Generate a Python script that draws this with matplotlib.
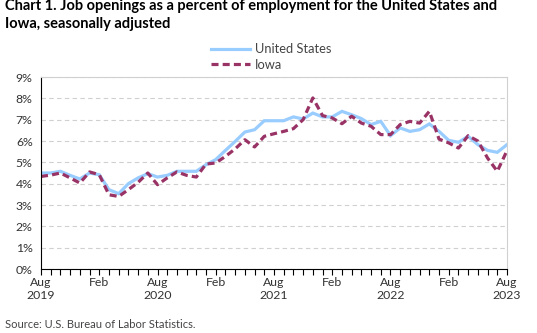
import matplotlib
matplotlib.use('Agg')
import matplotlib.pyplot as plt
import numpy as np

# monthly, Aug 2019 .. Aug 2023
us_rate = [4.5, 4.5, 4.58, 4.39, 4.22, 4.5, 4.42, 3.72, 3.53, 4.0,
           4.27, 4.47, 4.31, 4.39, 4.58, 4.58, 4.58, 4.89, 5.13, 5.56,
           5.98, 6.42, 6.53, 6.95, 6.95, 6.95, 7.13, 7.03, 7.31, 7.13,
           7.13, 7.39, 7.23, 7.05, 6.77, 6.92, 6.25, 6.61, 6.45, 6.53,
           6.8, 6.45, 6.03, 5.94, 6.22, 5.83, 5.56, 5.47, 5.83]
iowa_rate = [4.34, 4.4, 4.5, 4.27, 4.03, 4.55, 4.42, 3.48, 3.4, 3.72,
             4.06, 4.5, 3.95, 4.27, 4.55, 4.39, 4.31, 4.92, 4.97, 5.28,
             5.63, 6.06, 5.72, 6.22, 6.34, 6.45, 6.58, 7.0, 8.02, 7.19,
             7.08, 6.81, 7.16, 6.84, 6.69, 6.3, 6.3, 6.77, 6.92, 6.84,
             7.39, 6.09, 5.91, 5.67, 6.25, 6.0, 5.2, 4.58, 5.55]
tick_labels = ['Aug\n2019', 'Feb', 'Aug\n2020', 'Feb', 'Aug\n2021',
               'Feb', 'Aug\n2022', 'Feb', 'Aug\n2023']
y_ticks = [0, 1, 2, 3, 4, 5, 6, 7, 8, 9]

plt.rcParams['font.family'] = ['Lato', 'DejaVu Sans']

fig = plt.figure(figsize=(5.37, 3.33), dpi=100)
ax = fig.add_axes([41/537, 1 - 269/333, 466/537, 192/333])

months = np.arange(len(us_rate))
ax.plot(months, us_rate, color='#99CCFF', linewidth=2.3, label='United States',
        solid_joinstyle='miter')
ax.plot(months, iowa_rate, color='#993366', linewidth=2.3, linestyle=(0, (2.2, 1.3)),
        label='Iowa')

ax.set_xlim(0, 48)
ax.set_ylim(0, 9)
ax.set_yticks(y_ticks)
ax.set_yticklabels([str(v) + '%' for v in y_ticks])
ax.set_xticks(np.arange(0, 49, 6))
ax.set_xticklabels(tick_labels)
ax.set_xticks(np.arange(0, 49, 1), minor=True)
ax.tick_params(axis='x', which='both', direction='out', length=4, width=0.8,
               color='black', labelsize=8.8, pad=2, labelcolor='#333333')
ax.tick_params(axis='y', length=0, labelsize=8.8, pad=6, labelcolor='#333333')

ax.grid(axis='y', color='#D0D0D0', linestyle=(0, (4, 3)), linewidth=0.8)
ax.set_axisbelow(True)
ax.spines['left'].set_color('black')
ax.spines['bottom'].set_color('black')
ax.spines['top'].set_color('#D0D0D0')
ax.spines['right'].set_color('#D0D0D0')

fig.text(5/537, 1 - 15/333, 'Chart 1. Job openings as a percent of employment for the United States and\nIowa, seasonally adjusted',
         fontsize=10.5, fontweight='bold', va='center', ha='left', linespacing=1.35)

ax.legend(loc='center', bbox_to_anchor=(271/537, 1 - 57/333), bbox_transform=fig.transFigure,
          frameon=False, fontsize=9.3, handlelength=3.0, handletextpad=0.4,
          labelspacing=0.25, labelcolor='#444444')

fig.text(5/537, 1 - 324/333, 'Source: U.S. Bureau of Labor Statistics.', fontsize=8,
         color='#444444', va='center', ha='left')

fig.savefig('out.png', dpi=100)
